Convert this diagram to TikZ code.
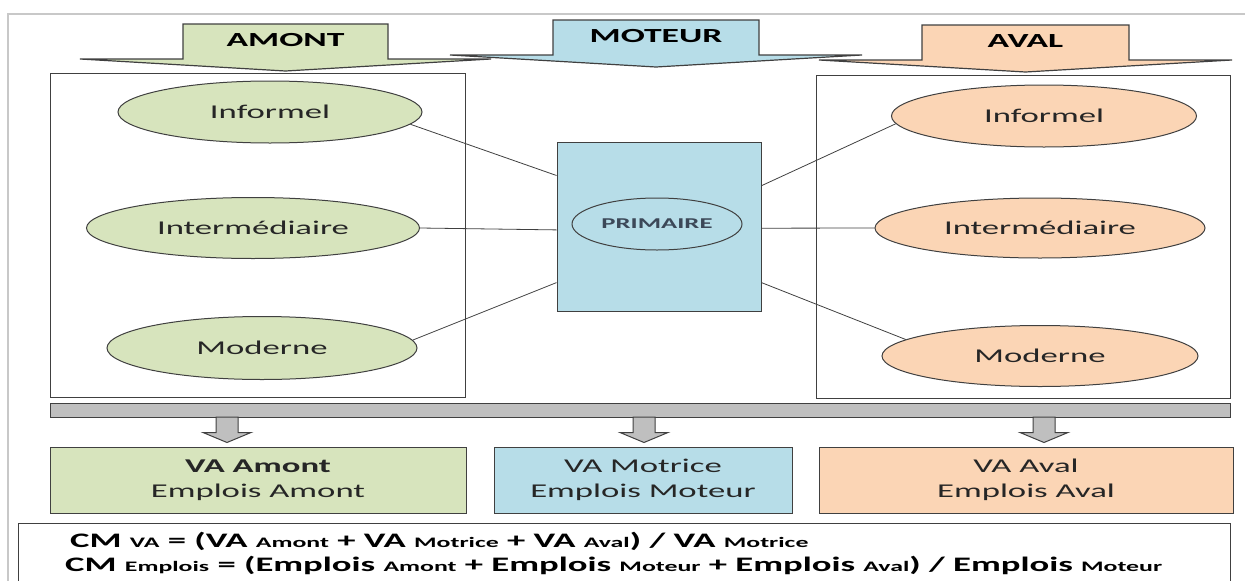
\documentclass[tikz,border=0pt]{standalone}
\usepackage{fontspec}
\setmainfont{Carlito}[FakeStretch=1.78]
\usepackage{tikz}
\usetikzlibrary{shapes.geometric, positioning, calc}
\definecolor{amontgreen}{RGB}{215, 228, 189}
\definecolor{moteurblue}{RGB}{183, 221, 232}
\definecolor{avalorange}{RGB}{251, 213, 181}
\definecolor{bargray}{RGB}{191, 191, 191}
\definecolor{linegray}{RGB}{64, 64, 64}
\definecolor{framegray}{RGB}{200, 200, 200}
\definecolor{textdark}{RGB}{38, 38, 38}
\newcommand{\cmbig}{\fontsize{20.6}{24}\selectfont}
\newcommand{\cmsmall}{\fontsize{14.5}{24}\selectfont}
\tikzset{
  sector/.style={ellipse, draw=linegray, line width=1pt, inner sep=0pt, text=textdark, font=\fontsize{19.5}{23}\selectfont},
  vabox/.style={draw=linegray, line width=1pt, align=center, text=textdark, minimum height=66, font=\fontsize{19.5}{25}\selectfont},
  zone/.style={draw=linegray, line width=1pt},
  link/.style={linegray, line width=0.8pt},
  fatarrow/.style={draw=linegray, fill=bargray, line width=1pt,
    to path={let \p1=(\tikztostart), \p2=(\tikztotarget) in
      (\x1-11pt,\y1) -- (\x1+11pt,\y1) -- (\x1+11pt,\y2+14pt) -- (\x1+24pt,\y2+14pt)
      -- (\x1,\y2+4pt) -- (\x1-24pt,\y2+14pt) -- (\x1-11pt,\y2+14pt) -- cycle}}
}

\begin{document}
\begin{tikzpicture}[x=1pt, y=1pt]
    \useasboundingbox (0,0) rectangle (1245,-581);
    \draw[framegray, line width=1.5] (8,-600) -- (8,-14) -- (1260,-14);

    % arrows on top
    \foreach \xa/\xb/\ya/\col/\name/\lbl in {183/388/24/amontgreen/amont/AMONT, 553/759/20/moteurblue/moteur/MOTEUR, 922/1129/25/avalorange/aval/AVAL} {
        \draw[fill=\col, draw=linegray, line width=1.2pt] (\xa,-\ya) -- (\xb,-\ya) -- (\xb,-\ya-35) -- (\xb+103,-\ya-35)
            -- ({(\xa+\xb)/2},-\ya-47) -- (\xa-103,-\ya-35) -- (\xa,-\ya-35) -- cycle;
        \node[font=\bfseries\fontsize{20}{24}\selectfont] (\name) at ({(\xa+\xb)/2},-\ya-16) {\lbl};
    }

    % the two zones
    \node[zone, minimum width=415, minimum height=324] (amontbox) at (257.5,-235) {};
    \node[zone, minimum width=414, minimum height=323] (avalbox) at (1023,-236.5) {};

    % primaire
    \node[zone, fill=moteurblue, minimum width=204, minimum height=169] (prim) at (659,-226.5) {};
    \coordinate (pl1) at ($(prim.north west)!0.2!(prim.south west)$);
    \coordinate (pl2) at ($(prim.north west)!0.52!(prim.south west)$);
    \coordinate (pl3) at ($(prim.north west)!0.83!(prim.south west)$);
    \coordinate (pr1) at ($(prim.north east)!0.26!(prim.south east)$);
    \coordinate (pr2) at ($(prim.north east)!0.51!(prim.south east)$);
    \coordinate (pr3) at ($(prim.north east)!0.83!(prim.south east)$);
    \node[ellipse, draw=linegray, line width=1pt, minimum width=170, minimum height=52, inner sep=0pt,
        text={rgb,255:red,60;green,72;blue,88}, font=\bfseries\fontsize{15}{18}\selectfont] (primell) at (657,-224) {PRIMAIRE};

    \node[sector, fill=amontgreen, minimum width=304, minimum height=62] (infL) at (270,-112) {Informel};
    \node[sector, fill=amontgreen, minimum width=333, minimum height=61] (intL) at (253,-228) {Intermédiaire};
    \node[sector, fill=amontgreen, minimum width=310, minimum height=63] (modL) at (262,-348) {Moderne};
    \node[sector, fill=avalorange, minimum width=305, minimum height=62] (infR) at (1044,-116) {Informel};
    \node[sector, fill=avalorange, minimum width=330, minimum height=60] (intR) at (1040,-228) {Intermédiaire};
    \node[sector, fill=avalorange, minimum width=316, minimum height=61] (modR) at (1040,-356) {Moderne};

    \draw[link] (infL.-5) -- (pl1);
    \draw[link] (intL.east) -- (pl2);
    \draw[link] (modL.3) -- (pl3);
    \draw[link] (pr1) -- (infR.183);
    \draw[link] (pr2) -- (intR.west);
    \draw[link] (pr3) -- (modR.173);

    % bar and results
    \node[draw=linegray, fill=bargray, line width=1pt, minimum width=1180, minimum height=14, inner sep=0pt] (bar) at (640,-410) {};
    \node[vabox, fill=amontgreen, minimum width=416] (vaA) at (258,-480) {\textbf{VA Amont}\\Emplois Amont};
    \node[vabox, fill=moteurblue, minimum width=298] (vaM) at (643,-480) {VA Motrice\\Emplois Moteur};
    \node[vabox, fill=avalorange, minimum width=414] (vaV) at (1026,-480) {VA Aval\\Emplois Aval};
    \coordinate (aA) at (227,-417);
    \coordinate (aM) at (644,-417);
    \coordinate (aV) at (1044,-417);
    \draw[fatarrow] (aA) to (vaA.north);
    \draw[fatarrow] (aM) to (vaM.north);
    \draw[fatarrow] (aV) to (vaV.north);

    % formulas
    \draw[linegray, line width=1pt, fill=white] (18,-523) rectangle (1230,-600);
    \node[anchor=west, inner sep=0pt, font=\bfseries] (cmva) at (70,-541)
        {\cmbig CM {\cmsmall VA} = (VA {\cmsmall Amont} + VA {\cmsmall Motrice} + VA {\cmsmall Aval}) / VA {\cmsmall Motrice}};
    \node[anchor=west, inner sep=0pt, font=\bfseries] (cmemp) at (65,-565)
        {\cmbig CM {\cmsmall Emplois} = (Emplois {\cmsmall Amont} + Emplois {\cmsmall Moteur} + Emplois {\cmsmall Aval}) / Emplois {\cmsmall Moteur}};
\end{tikzpicture}
\end{document}
